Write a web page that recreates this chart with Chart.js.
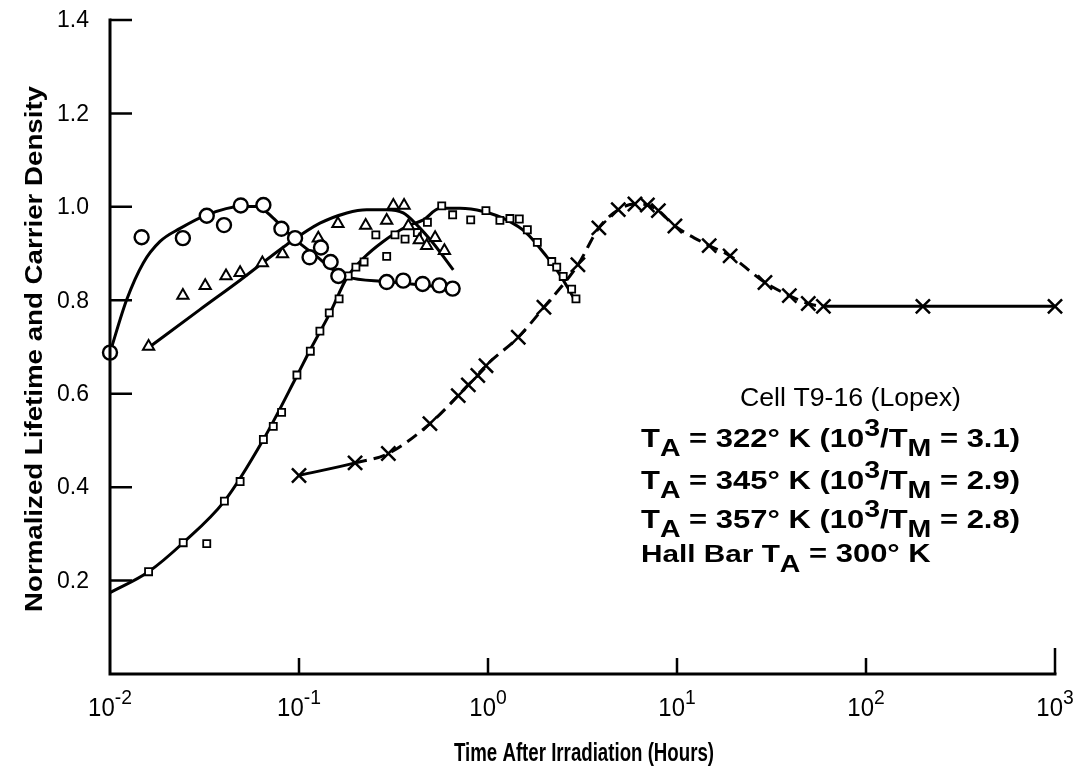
<!DOCTYPE html>
<html>
<head>
<meta charset="utf-8">
<script src="https://cdn.jsdelivr.net/npm/chart.js@4.4.0/dist/chart.umd.min.js"></script>
<style>
  html, body { margin: 0; padding: 0; background: #fff; }
  #wrap { width: 1083px; height: 773px; }
</style>
</head>
<body>
<div id="wrap"><canvas id="chart" width="1083" height="773"></canvas></div>
<script>
// Measured points, T_A = 322 K (circles)
const circleTime  = [0.01, 0.0147, 0.0243, 0.0325, 0.0401, 0.0492, 0.0648, 0.0807, 0.0953, 0.1137, 0.1307, 0.147, 0.1615, 0.291, 0.356, 0.451, 0.553, 0.65];
const circleValue = [0.688, 0.935, 0.933, 0.981, 0.961, 1.003, 1.004, 0.953, 0.933, 0.892, 0.913, 0.882, 0.852, 0.839, 0.842, 0.835, 0.832, 0.825];
const circleFitTime  = [0.01, 0.01225, 0.015, 0.0184, 0.0235, 0.0325, 0.0488, 0.0598, 0.0731, 0.086, 0.101, 0.124, 0.152, 0.179, 0.291, 0.653];
const circleFitValue = [0.688, 0.801, 0.88, 0.926, 0.954, 0.983, 1.001, 1.001, 0.976, 0.947, 0.922, 0.894, 0.865, 0.85, 0.84, 0.826];

// T_A = 345 K (triangles)
const triangleTime  = [0.016, 0.0243, 0.0319, 0.0411, 0.0488, 0.064, 0.0818, 0.1265, 0.1607, 0.2253, 0.291, 0.3156, 0.3597, 0.379, 0.433, 0.474, 0.525, 0.588];
const triangleValue = [0.701, 0.81, 0.831, 0.852, 0.859, 0.88, 0.899, 0.933, 0.964, 0.96, 0.971, 1.003, 1.003, 0.959, 0.929, 0.917, 0.934, 0.906];
const triangleFitTime  = [0.0163, 0.0299, 0.0488, 0.0861, 0.129, 0.179, 0.228, 0.291, 0.356, 0.419, 0.513, 0.655];
const triangleFitValue = [0.701, 0.78, 0.843, 0.919, 0.965, 0.987, 0.994, 0.994, 0.987, 0.962, 0.922, 0.865];

// T_A = 357 K (squares)
const squareTime  = [0.016, 0.0244, 0.0325, 0.0403, 0.0488, 0.0648, 0.0731, 0.0809, 0.0975, 0.1148, 0.129, 0.1446, 0.163, 0.182, 0.2, 0.221, 0.291, 0.255, 0.322, 0.364, 0.423, 0.478, 0.569, 0.65, 0.81, 0.975, 1.156, 1.306, 1.464, 1.615, 1.824, 2.174, 2.31, 2.5, 2.77, 2.92];
const squareValue = [0.219, 0.281, 0.279, 0.37, 0.412, 0.502, 0.53, 0.56, 0.64, 0.691, 0.734, 0.773, 0.803, 0.852, 0.871, 0.882, 0.894, 0.94, 0.94, 0.931, 0.945, 0.967, 1.002, 0.983, 0.972, 0.992, 0.971, 0.975, 0.974, 0.951, 0.924, 0.883, 0.871, 0.851, 0.824, 0.803];
const squareFitTime  = [0.01, 0.016, 0.0244, 0.0403, 0.0648, 0.0977, 0.1143, 0.146, 0.179, 0.219, 0.279, 0.371, 0.455, 0.557, 0.711, 0.945, 1.254, 1.599, 2.04, 2.4, 2.82];
const squareFitValue = [0.174, 0.219, 0.281, 0.37, 0.502, 0.639, 0.693, 0.773, 0.848, 0.89, 0.926, 0.958, 0.972, 0.997, 0.997, 0.99, 0.972, 0.944, 0.894, 0.855, 0.807];

// Hall bar, T_A = 300 K (crosses)
const hallTime  = [0.1, 0.198, 0.297, 0.493, 0.696, 0.787, 0.883, 0.976, 1.446, 1.977, 2.99, 3.86, 4.89, 5.99, 6.97, 7.97, 9.75, 14.8, 19.1, 29.2, 39.3, 49.5, 59.5, 200, 1000];
const hallValue = [0.425, 0.452, 0.472, 0.536, 0.596, 0.619, 0.639, 0.66, 0.721, 0.785, 0.876, 0.955, 0.994, 1.006, 1.004, 0.992, 0.959, 0.917, 0.895, 0.838, 0.81, 0.793, 0.787, 0.787, 0.787];

// Axis ticks
const xTickExponents = [-2, -1, 0, 1, 2, 3];
const yTickValues = [0.2, 0.4, 0.6, 0.8, 1.0, 1.2, 1.4];
const yTickLabels = ['0.2', '0.4', '0.6', '0.8', '1.0', '1.2', '1.4'];

// Key text
const keyTitle = 'Cell T9-16 (Lopex)';
const keyTemps = ['322', '345', '357'];
const keyRatios = ['3.1', '2.9', '2.8'];
const hallTemp = '300';

const xTitle = 'Time After Irradiation (Hours)';
const yTitle = 'Normalized Lifetime and Carrier Density';

function pts(xs, ys) {
    return xs.map((x, i) => ({ x: x, y: ys[i] }));
}

const FONT = '"Liberation Sans", Arial, Helvetica, sans-serif';

function partsWidth(ctx, parts) {
    let w = 0;
    parts.forEach(p => {
        ctx.font = p.font;
        w += ctx.measureText(p.text).width;
    });
    return w;
}

// writes a run of text pieces (for sub/superscripts), stretched by sx
function drawParts(ctx, parts, x, y, sx) {
    ctx.save();
    ctx.translate(x, y);
    ctx.scale(sx || 1, 1);
    let cx = 0;
    parts.forEach(p => {
        ctx.font = p.font;
        ctx.fillText(p.text, cx, p.dy || 0);
        cx += ctx.measureText(p.text).width;
    });
    ctx.restore();
}

const axesPlugin = {
    id: 'axesPlugin',
    afterDraw(chart) {
        const ctx = chart.ctx;
        const xs = chart.scales.x;
        const ys = chart.scales.y;
        const left = xs.getPixelForValue(0.01);
        const right = xs.getPixelForValue(1000);
        const bottom = ys.getPixelForValue(0);
        const top = ys.getPixelForValue(1.4);

        ctx.save();
        ctx.strokeStyle = '#000';
        ctx.fillStyle = '#000';
        ctx.lineWidth = 3;
        ctx.lineCap = 'square';

        // axis lines
        ctx.beginPath();
        ctx.moveTo(left, top);
        ctx.lineTo(left, bottom);
        ctx.lineTo(right, bottom);
        ctx.stroke();

        // inward ticks
        ctx.lineWidth = 2.5;
        ctx.lineCap = 'butt';
        ctx.beginPath();
        yTickValues.forEach(v => {
            const py = ys.getPixelForValue(v);
            ctx.moveTo(left, py);
            ctx.lineTo(left + 22, py);
        });
        xTickExponents.forEach((e, i) => {
            if (i === 0) return;
            const px = xs.getPixelForValue(Math.pow(10, e));
            ctx.moveTo(px, bottom);
            ctx.lineTo(px, bottom - (i === xTickExponents.length - 1 ? 26 : 16));
        });
        ctx.stroke();

        // y tick labels
        ctx.font = '23px ' + FONT;
        ctx.textAlign = 'right';
        ctx.textBaseline = 'middle';
        yTickValues.forEach((v, i) => {
            ctx.fillText(yTickLabels[i], left - 21, ys.getPixelForValue(v) + 1);
        });

        // x tick labels, 10 with a raised exponent
        ctx.textAlign = 'left';
        ctx.textBaseline = 'alphabetic';
        xTickExponents.forEach(e => {
            const px = xs.getPixelForValue(Math.pow(10, e));
            const parts = [
                { text: '10', font: '26px ' + FONT },
                { text: String(e), font: '21px ' + FONT, dy: -12 }
            ];
            const w = partsWidth(ctx, parts) * 0.92;
            drawParts(ctx, parts, px - w / 2, bottom + 42, 0.92);
        });

        // x title, narrow bold
        ctx.font = 'bold 25px ' + FONT;
        let tw = ctx.measureText(xTitle).width;
        ctx.save();
        ctx.translate(584, bottom + 87);
        ctx.scale(260 / tw, 1);
        ctx.textAlign = 'center';
        ctx.fillText(xTitle, 0, 0);
        ctx.restore();

        // y title, rotated
        ctx.font = 'bold 23px ' + FONT;
        tw = ctx.measureText(yTitle).width;
        ctx.save();
        ctx.translate(42, 349);
        ctx.rotate(-Math.PI / 2);
        ctx.scale(526 / tw, 1);
        ctx.textAlign = 'center';
        ctx.fillText(yTitle, 0, 0);
        ctx.restore();

        // key
        ctx.textAlign = 'left';
        ctx.font = '25px ' + FONT;
        tw = ctx.measureText(keyTitle).width;
        drawParts(ctx, [{ text: keyTitle, font: '25px ' + FONT }], 740, 406, 221 / tw);

        const big = 'bold 25px ' + FONT;
        const sub = 'bold 23px ' + FONT;
        const keyX = 641;
        const rowY = [447, 489, 528];
        let rowScale = 1;
        keyTemps.forEach((t, i) => {
            const parts = [
                { text: 'T', font: big },
                { text: 'A', font: sub, dy: 9 },
                { text: ' = ' + t + '\u00B0 K (10', font: big },
                { text: '3', font: sub, dy: -11 },
                { text: '/T', font: big },
                { text: 'M', font: sub, dy: 9 },
                { text: ' = ' + keyRatios[i] + ')', font: big }
            ];
            if (i === 0) rowScale = 379 / partsWidth(ctx, parts);
            drawParts(ctx, parts, keyX, rowY[i], rowScale);
        });
        drawParts(ctx, [
            { text: 'Hall Bar T', font: 'bold 24px ' + FONT },
            { text: 'A', font: sub, dy: 10 },
            { text: ' = ' + hallTemp + '\u00B0 K', font: big }
        ], keyX, 562, rowScale);

        ctx.restore();
    }
};

const markerBase = {
    type: 'scatter',
    showLine: false,
    borderColor: '#000',
    backgroundColor: '#fff',
    clip: false,
    order: 0
};

const fitBase = {
    type: 'line',
    borderColor: '#000',
    borderWidth: 3,
    pointRadius: 0,
    fill: false,
    cubicInterpolationMode: 'monotone',
    clip: false,
    order: 1
};

new Chart(document.getElementById('chart'), {
    data: {
        datasets: [
            Object.assign({}, fitBase, { label: 'fit 322', data: pts(circleFitTime, circleFitValue) }),
            Object.assign({}, fitBase, { label: 'fit 345', data: pts(triangleFitTime, triangleFitValue) }),
            Object.assign({}, fitBase, { label: 'fit 357', data: pts(squareFitTime, squareFitValue) }),
            {
                type: 'line',
                label: 'Hall bar',
                data: pts(hallTime, hallValue),
                borderColor: '#000',
                backgroundColor: '#000',
                borderWidth: 3,
                borderDash: [12, 7],
                segment: {
                    borderDash: c => (c.p0.parsed.x < 0.15 || c.p0.parsed.x > 55) ? [] : [12, 7]
                },
                cubicInterpolationMode: 'monotone',
                pointStyle: 'crossRot',
                pointRadius: 10,
                pointBorderWidth: 2.5,
                clip: false,
                order: 0
            },
            Object.assign({}, markerBase, {
                label: '322 K', data: pts(circleTime, circleValue),
                pointStyle: 'circle', pointRadius: 7, pointBorderWidth: 2.4
            }),
            Object.assign({}, markerBase, {
                label: '345 K', data: pts(triangleTime, triangleValue),
                pointStyle: 'triangle', pointRadius: 6.5, pointBorderWidth: 2
            }),
            Object.assign({}, markerBase, {
                label: '357 K', data: pts(squareTime, squareValue),
                pointStyle: 'rect', pointRadius: 5, pointBorderWidth: 1.8
            })
        ]
    },
    options: {
        responsive: false,
        animation: false,
        events: [],
        layout: { padding: { left: 110, right: 28, top: 20, bottom: 99 } },
        scales: {
            x: { type: 'logarithmic', min: 0.01, max: 1000, display: false },
            y: { type: 'linear', min: 0, max: 1.4, display: false }
        },
        plugins: {
            legend: { display: false },
            tooltip: { enabled: false }
        }
    },
    plugins: [axesPlugin]
});
</script>
</body>
</html>
